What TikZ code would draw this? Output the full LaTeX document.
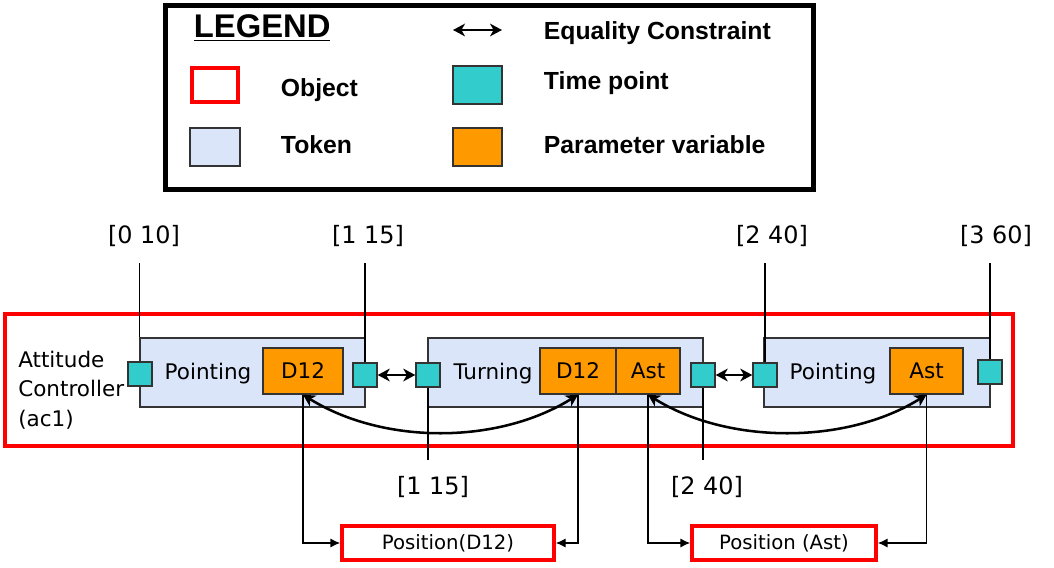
\documentclass[tikz,border=0pt]{standalone}
\usepackage{fontspec}
\usetikzlibrary{arrows.meta}
\setmainfont{DejaVu Sans}
\newfontfamily\legendfont{Liberation Sans}
\definecolor{tokenblue}{HTML}{DAE5FA}
\definecolor{tpteal}{HTML}{33CCCC}
\definecolor{parorange}{HTML}{FF9900}
\begin{document}
\begin{tikzpicture}[x=.025cm,y=-.025cm, line join=miter, >={Stealth[length=8.5pt,width=9pt,inset=2.5pt]},
	font=\fontsize{15.3}{21}\selectfont,
	legtxt/.style={font=\legendfont\bfseries\fontsize{17.6}{20}\selectfont, anchor=west},
	object/.style={draw=red, line width=2.8pt, inner sep=0pt},
	token/.style={draw=black!80, fill=tokenblue, line width=.9pt, minimum height=1.725cm, inner sep=0pt},
	tpoint/.style={draw=black!80, fill=tpteal, line width=1pt, minimum size=.6cm, inner sep=0pt},
	param/.style={draw=black!80, fill=parorange, line width=1pt, minimum height=1.15cm, inner sep=0pt},
	stamp/.style={font=\fontsize{17}{20}\selectfont, inner sep=0pt, outer sep=.42cm},
	link/.style={line width=.9pt},
	feed/.style={link, -{Latex[length=7pt,width=6.5pt]}},
	equal/.style={<->, line width=1.8pt}]
	\useasboundingbox (0,0) rectangle (1054,567);
	\node[draw, line width=3.5pt, minimum width=16.2cm, minimum height=4.6cm, inner sep=0pt] (legend) at (489.5,97.5) {};
	\node[legtxt, font=\legendfont\bfseries\fontsize{23.3}{26}\selectfont] (legtitle) at (189,28) {\underline{LEGEND}};
	\node[object, minimum width=1.15cm, minimum height=.85cm] (legobj) at (215,85) {};
	\node[token, minimum width=1.25cm, minimum height=.95cm] (legtok) at (215,147) {};
	\node[tpoint, minimum width=1.225cm, minimum height=.95cm] (legtp) at (477.5,85) {};
	\node[param, minimum width=1.225cm, minimum height=.95cm] (legpar) at (477.5,147) {};
	\coordinate (eqa) at (453,30);
	\coordinate (eqb) at (502,30);
	\draw[equal, line width=1.6pt] (eqa) -- (eqb);
	\node[legtxt] (legeq) at (539,33) {Equality Constraint};
	\node[legtxt] (legobjt) at (276,90) {Object};
	\node[legtxt] (legtokt) at (276,145) {Token};
	\node[legtxt] (legtpt) at (539,83) {Time point};
	\node[legtxt] (legpart) at (539,145) {Parameter variable};

	\node[object, minimum width=25.2cm, minimum height=3.3cm] (ac1) at (509,380) {};
	\node[anchor=west, align=left, inner sep=0pt] (acname) at (18,390) {Attitude\\Controller\\(ac1)};

	\node[token, minimum width=5.625cm] (tokA) at (252.5,372.5) {};
	\node[token, minimum width=6.875cm] (tokB) at (565.5,372.5) {};
	\node[token, minimum width=5.65cm] (tokC) at (877,372.5) {};
	\node (nmA) at (208,374) {Pointing};
	\node (nmB) at (493,374) {Turning};
	\node (nmC) at (833,374) {Pointing};

	\node[param, minimum width=2cm] (dA) at (303,371) {D12};
	\node[param, minimum width=1.9cm] (dB) at (578,371) {D12};
	\node[param, minimum width=1.6cm] (aB) at (648,371) {Ast};
	\node[param, minimum width=1.825cm] (aC) at (926.5,371) {Ast};

	\node[tpoint] (tpA) at (140,374) {};
	\node[tpoint] (tpB) at (365,375) {};
	\node[tpoint] (tpC) at (428,375) {};
	\node[tpoint] (tpD) at (703,375) {};
	\node[tpoint] (tpE) at (765,375) {};
	\node[tpoint] (tpF) at (990,372) {};
	\draw[equal] (tpB) -- (tpC);
	\draw[equal] (tpD) -- (tpE);

	\node[stamp] (lbA) at (144,236) {[0 10]};
	\node[stamp] (lbB) at (368,236) {[1 15]};
	\node[stamp] (lbC) at (772,236) {[2 40]};
	\node[stamp] (lbD) at (996,236) {[3 60]};
	\node[stamp] (lbE) at (433,487) {[1 15]};
	\node[stamp] (lbF) at (707,487) {[2 40]};
	\draw[link] (tokA.north west) -- (tokA.north west |- lbA.south);
	\draw[link] (tpB.north) -- (tpB.north |- lbB.south);
	\draw[link] (tpE.north) -- (tpE.north |- lbC.south);
	\draw[link] (tpF.north) -- (tpF.north |- lbD.south);
	\draw[link] (tpC.south) -- (tpC.south |- lbE.north);
	\draw[link] (tpD.south) -- (tpD.south |- lbF.north);

	\node[object, line width=2.5pt, minimum width=5.3cm, minimum height=.85cm, font=\fontsize{14}{16}\selectfont] (posD) at (448,543) {Position(D12)};
	\node[object, line width=2.5pt, minimum width=4.6cm, minimum height=.85cm, font=\fontsize{14}{16}\selectfont] (posA) at (784,543) {Position (Ast)};
	\draw[feed] (dA.south) |- (posD.west);
	\draw[feed] (dB.south) |- (posD.east);
	\draw[feed] (aB.south) |- (posA.west);
	\draw[feed] (aC.south) |- (posA.east);

	\draw[equal] (dA.south) .. controls +(80,50) and +(-80,50) .. (dB.south);
	\draw[equal] (aB.south) .. controls +(80,50) and +(-80,50) .. (aC.south);
\end{tikzpicture}
\end{document}
